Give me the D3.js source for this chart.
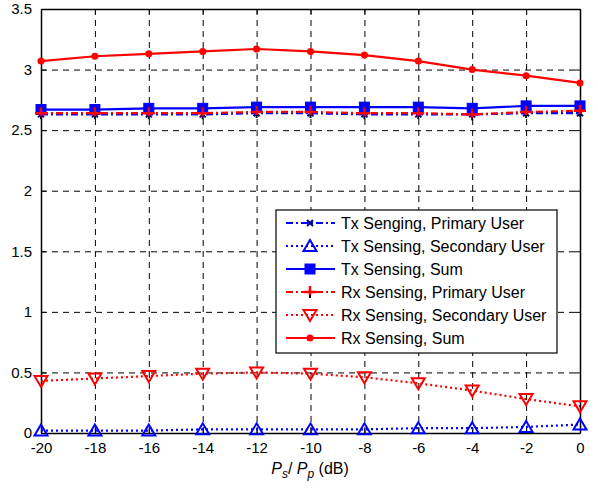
<!DOCTYPE html>
<html>
<head>
<meta charset="UTF-8">
<script src="https://cdn.jsdelivr.net/npm/d3@7"></script>
<style>
  body { margin: 0; background: #fff; }
  svg { font-family: "Liberation Sans", Arial, sans-serif; }
</style>
</head>
<body>
<div id="chart"></div>
<script>
// x values (Ps/Pp in dB)
var xVals = [-20, -18, -16, -14, -12, -10, -8, -6, -4, -2, 0];
var txPrimary   = [2.63, 2.63, 2.63, 2.63, 2.64, 2.64, 2.63, 2.63, 2.63, 2.64, 2.64];
var txSecondary = [0.02, 0.02, 0.02, 0.03, 0.03, 0.03, 0.03, 0.04, 0.04, 0.05, 0.07];
var txSum       = [2.67, 2.67, 2.68, 2.68, 2.69, 2.69, 2.69, 2.69, 2.68, 2.70, 2.70];
var rxPrimary   = [2.64, 2.64, 2.64, 2.64, 2.65, 2.65, 2.64, 2.64, 2.63, 2.65, 2.66];
var rxSecondary = [0.43, 0.45, 0.47, 0.49, 0.50, 0.49, 0.46, 0.41, 0.35, 0.28, 0.22];
var rxSum       = [3.07, 3.11, 3.13, 3.15, 3.17, 3.15, 3.12, 3.07, 3.00, 2.95, 2.89];
var xTicks = [-20, -18, -16, -14, -12, -10, -8, -6, -4, -2, 0];
var yTicks = [0, 0.5, 1, 1.5, 2, 2.5, 3, 3.5];
var legendNames = ["Tx Senging, Primary User", "Tx Sensing, Secondary User", "Tx Sensing, Sum",
                   "Rx Sensing, Primary User", "Rx Sensing, Secondary User", "Rx Sensing, Sum"];

var series = [
  {vals: txPrimary,   color: "#0000ff", dash: "7,3,2,3", marker: "x"},
  {vals: txSecondary, color: "#0000ff", dash: "2,3",     marker: "tri"},
  {vals: txSum,       color: "#0000ff", dash: null,      marker: "square"},
  {vals: rxPrimary,   color: "#ff0000", dash: "7,3,2,3", marker: "plus"},
  {vals: rxSecondary, color: "#ff0000", dash: "2,3",     marker: "triDown"},
  {vals: rxSum,       color: "#ff0000", dash: null,      marker: "circle"}
];

var W = 598, H = 488;
var mLeft = 41, mRight = 580, mTop = 9, mBottom = 433;

var svg = d3.select("#chart").append("svg").attr("width", W).attr("height", H);

var x = d3.scaleLinear().domain([-20, 0]).range([mLeft, mRight]);
var y = d3.scaleLinear().domain([0, 3.5]).range([mBottom, mTop]);

// grid
var grid = svg.append("g").attr("stroke", "#000").attr("stroke-width", 1).attr("stroke-dasharray", "6,5");
grid.selectAll(".gx").data(xTicks.slice(1, -1)).enter().append("line")
  .attr("x1", d => x(d) + 0.5).attr("x2", d => x(d) + 0.5).attr("y1", mTop).attr("y2", mBottom);
grid.selectAll(".gy").data(yTicks.slice(1, -1)).enter().append("line")
  .attr("y1", d => y(d) + 0.5).attr("y2", d => y(d) + 0.5).attr("x1", mLeft).attr("x2", mRight);

// axes (ticks inward, box on all sides)
var fmt = d => String(d);
var axB = d3.axisBottom(x).tickValues(xTicks).tickSizeInner(-5).tickSizeOuter(0).tickPadding(9).tickFormat(fmt);
var axL = d3.axisLeft(y).tickValues(yTicks).tickSizeInner(-5).tickSizeOuter(0).tickPadding(9).tickFormat(fmt);
var axT = d3.axisTop(x).tickValues(xTicks).tickSizeInner(-5).tickSizeOuter(0).tickFormat("");
var axR = d3.axisRight(y).tickValues(yTicks).tickSizeInner(-5).tickSizeOuter(0).tickFormat("");

function styleAxis(g) {
  g.selectAll("path").attr("stroke", "#000").attr("stroke-width", 1.5);
  g.selectAll("line").attr("stroke", "#000");
  g.selectAll("text").attr("font-size", 15).attr("fill", "#000").attr("font-family", "Liberation Sans, Arial, sans-serif");
}
svg.append("g").attr("transform", "translate(0," + mBottom + ")").call(axB).call(styleAxis);
svg.append("g").attr("transform", "translate(" + mLeft + ",0)").call(axL).call(styleAxis);
svg.append("g").attr("transform", "translate(0," + mTop + ")").call(axT).call(styleAxis);
svg.append("g").attr("transform", "translate(" + mRight + ",0)").call(axR).call(styleAxis);

// markers
function drawMarker(g, type, cx, cy, color) {
  if (type === "square") {
    g.append("rect").attr("x", cx - 5).attr("y", cy - 5).attr("width", 10).attr("height", 10)
      .attr("fill", color).attr("stroke", color);
  } else if (type === "circle") {
    g.append("circle").attr("cx", cx).attr("cy", cy).attr("r", 3.5).attr("fill", color);
  } else if (type === "tri") {
    g.append("path").attr("d", "M" + cx + "," + (cy - 6) + "L" + (cx + 6.5) + "," + (cy + 5) + "L" + (cx - 6.5) + "," + (cy + 5) + "Z")
      .attr("fill", "none").attr("stroke", color).attr("stroke-width", 2);
  } else if (type === "triDown") {
    g.append("path").attr("d", "M" + cx + "," + (cy + 6) + "L" + (cx + 6.5) + "," + (cy - 5) + "L" + (cx - 6.5) + "," + (cy - 5) + "Z")
      .attr("fill", "none").attr("stroke", color).attr("stroke-width", 2);
  } else if (type === "x") {
    g.append("path").attr("d", "M" + (cx - 3) + "," + (cy - 3) + "L" + (cx + 3) + "," + (cy + 3) + "M" + (cx - 3) + "," + (cy + 3) + "L" + (cx + 3) + "," + (cy - 3))
      .attr("stroke", "#00008b").attr("stroke-width", 2);
  } else if (type === "plus") {
    g.append("path").attr("d", "M" + cx + "," + (cy - 6) + "L" + cx + "," + (cy + 6))
      .attr("stroke", "#000").attr("stroke-width", 2);
    g.append("path").attr("d", "M" + (cx - 6) + "," + cy + "L" + (cx + 6) + "," + cy + "M" + cx + "," + (cy - 6) + "L" + cx + "," + (cy + 3))
      .attr("stroke", color).attr("stroke-width", 2.5);
  }
}

var line = d3.line().x((d, i) => x(xVals[i])).y(d => y(d));
var plot = svg.append("g");
series.forEach(function(s) {
  plot.append("path").datum(s.vals).attr("d", line)
    .attr("fill", "none").attr("stroke", s.color).attr("stroke-width", 2.2)
    .attr("stroke-dasharray", s.dash);
  var mg = plot.append("g");
  s.vals.forEach(function(v, i) { drawMarker(mg, s.marker, x(xVals[i]), y(v), s.color); });
});

// legend
var lg = svg.append("g");
lg.append("rect").attr("x", 276).attr("y", 210).attr("width", 281).attr("height", 143)
  .attr("fill", "#fff").attr("stroke", "#000").attr("stroke-width", 1.2);
series.forEach(function(s, i) {
  var cy = 223 + i * 23;
  lg.append("line").attr("x1", 286).attr("x2", 335).attr("y1", cy).attr("y2", cy)
    .attr("stroke", s.color).attr("stroke-width", 2.2).attr("stroke-dasharray", s.dash);
  drawMarker(lg, s.marker, 310, cy, s.color);
  lg.append("text").attr("x", 341).attr("y", cy + 6).attr("font-size", 16).attr("fill", "#000")
    .text(legendNames[i]);
});

// x axis label
var xl = svg.append("text").attr("x", 310).attr("y", 474).attr("text-anchor", "middle")
  .attr("font-size", 16).attr("fill", "#000");
xl.append("tspan").attr("font-style", "italic").text("P");
xl.append("tspan").attr("font-style", "italic").attr("font-size", 12).attr("dy", 4).text("s");
xl.append("tspan").attr("dy", -4).text("/ ");
xl.append("tspan").attr("font-style", "italic").text("P");
xl.append("tspan").attr("font-style", "italic").attr("font-size", 12).attr("dy", 4).text("p");
xl.append("tspan").attr("dy", -4).text(" (dB)");
</script>
</body>
</html>
